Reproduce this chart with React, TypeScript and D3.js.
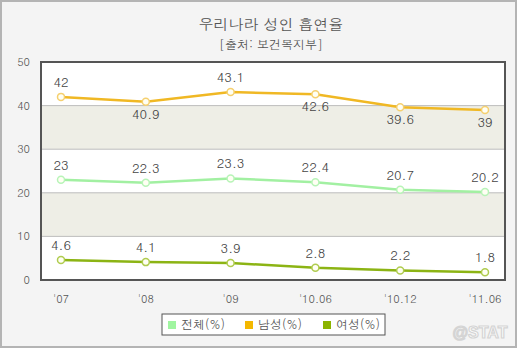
import React from "react";
import * as d3 from "d3";

const categories = ["'07", "'08", "'09", "'10.06", "'10.12", "'11.06"];
const totalValues = [23, 22.3, 23.3, 22.4, 20.7, 20.2];
const maleValues = [42, 40.9, 43.1, 42.6, 39.6, 39];
const femaleValues = [4.6, 4.1, 3.9, 2.8, 2.2, 1.8];
const yTicks = [0, 10, 20, 30, 40, 50];
const seriesNames = ["전체(%)", "남성(%)", "여성(%)"];

const W = 520, H = 350;
const L = 41, R = 505, T = 62, B = 280;

export default function App() {
  const x = d3.scalePoint<string>().domain(categories).range([61, 485]);
  const y = d3.scaleLinear().domain([0, 50]).range([B, T]);
  const line = d3.line<number>().x((_, i) => x(categories[i])!).y((d) => y(d));

  const series = [
    { name: seriesNames[0], values: totalValues, color: "#a2f0a2", marker: "#b8f4b8", legend: "#a0f5a0", below: false },
    { name: seriesNames[1], values: maleValues, color: "#f0b824", marker: "#f5d070", legend: "#f4b800", below: true },
    { name: seriesNames[2], values: femaleValues, color: "#8cb414", marker: "#b0cc50", legend: "#8cb400", below: false },
  ];

  const font = "Dotum, 'Noto Sans CJK KR', sans-serif";
  const bands = [
    [30, 40],
    [10, 20],
  ];
  const legendX = [168, 245, 323];

  return (
    <svg width={W} height={H} style={{ position: "absolute", left: 0, top: 0 }} fontFamily={font}>
      <rect x={0} y={0} width={W} height={H} fill="#ffffff" />
      <rect x={1} y={1} width={515} height={346} fill="#f4f4f4" stroke="#b4b4b4" strokeWidth={2} />
      <text x={271} y={30} textAnchor="middle" fontSize={15} fill="#555">우리나라 성인 흡연율</text>
      <text x={271} y={49} textAnchor="middle" fontSize={12} fill="#555">[출처: 보건복지부]</text>

      <rect x={L} y={T} width={R - L} height={B - T} fill="#ffffff" />
      {bands.map(([a, b], i) => (
        <rect key={i} x={L} y={y(b)} width={R - L} height={y(a) - y(b)} fill="#eeeee6" />
      ))}
      {yTicks.filter((t) => t > 0 && t < 50).map((t) => (
        <line key={t} x1={L} x2={R} y1={y(t)} y2={y(t)} stroke="#bdbdbd" strokeWidth={1} />
      ))}
      <rect x={L} y={T} width={R - L} height={B - T} fill="none" stroke="#555" strokeWidth={2} />

      {yTicks.map((t) => (
        <text key={t} x={30} y={y(t) + 4} textAnchor="end" fontSize={11} fill="#555">{t}</text>
      ))}
      {categories.map((c) => (
        <text key={c} x={x(c)} y={303} textAnchor="middle" fontSize={11} fill="#555">{c}</text>
      ))}

      {series.map((s) => (
        <g key={s.name}>
          <path d={line(s.values) || ""} fill="none" stroke={s.color} strokeWidth={2.5} />
          {s.values.map((v, i) => (
            <circle key={i} cx={x(categories[i])} cy={y(v)} r={3.5} fill="#fffff4" stroke={s.marker} strokeWidth={1.5} />
          ))}
          {s.values.map((v, i) => {
            const below = s.below && i > 0 && v < s.values[i - 1];
            return (
              <text key={"t" + i} x={x(categories[i])} y={below ? y(v) + 17 : y(v) - 10} textAnchor="middle" fontSize={13} fill="#444">
                {v}
              </text>
            );
          })}
        </g>
      ))}

      <rect x={162} y={314} width={223} height={21} fill="#ffffff" stroke="#555" strokeWidth={1} />
      {series.map((s, i) => (
        <g key={"lg" + i}>
          <rect x={legendX[i]} y={321} width={8} height={8} fill={s.legend} />
          <text x={legendX[i] + 13} y={329} fontSize={12} fill="#555">{s.name}</text>
        </g>
      ))}

      <text x={480} y={338} textAnchor="middle" fontSize={16} fontWeight="bold" fill="#ffffff" stroke="#d4d4d4" strokeWidth={1.2} fontFamily="Arial, 'Liberation Sans', sans-serif">@STAT</text>
    </svg>
  );
}
